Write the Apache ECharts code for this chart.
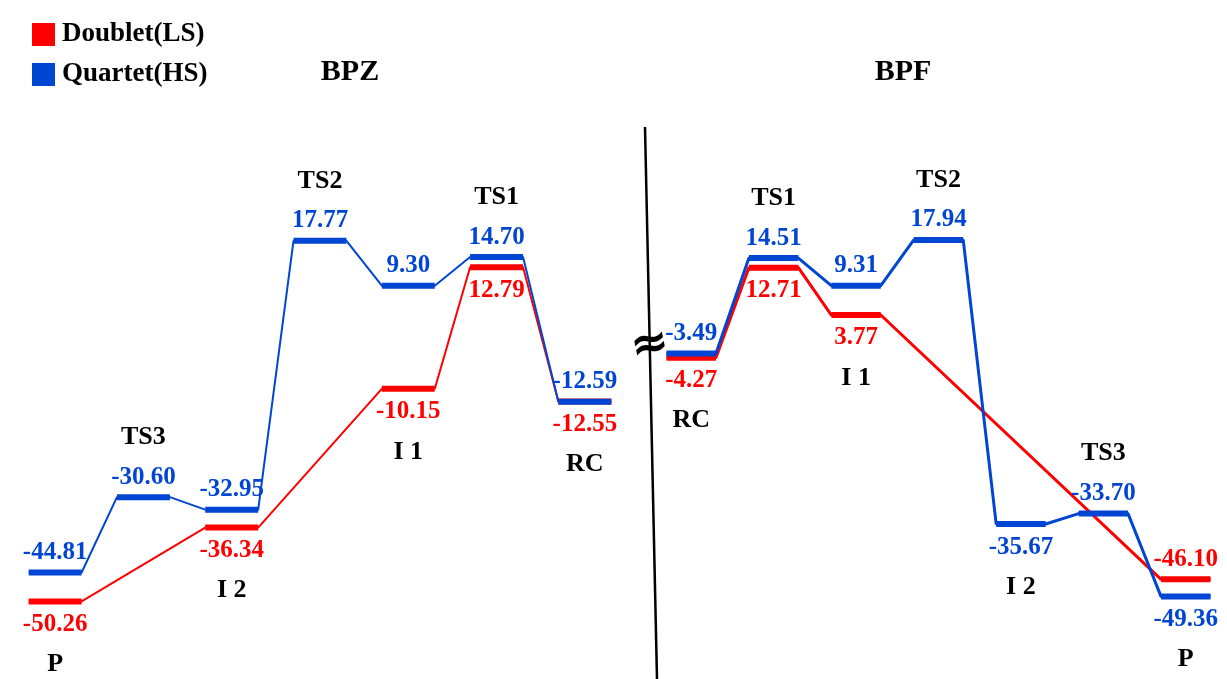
<!DOCTYPE html>
<html><head><meta charset="utf-8">
<script src="https://cdn.jsdelivr.net/npm/echarts@6/dist/echarts.min.js"></script>
<style>html,body{margin:0;padding:0;background:#fff}#c{width:1227px;height:679px}</style>
</head><body><div id="c"></div>
<script>
// ---- data ----
const seriesNames = ['Doublet(LS)', 'Quartet(HS)'];
const panelTitles = ['BPZ', 'BPF'];
const bpzStates  = ['P', 'TS3', 'I 2', 'TS2', 'I 1', 'TS1', 'RC'];
const bpzDoublet = [-50.26, null, -36.34, null, -10.15, 12.79, -12.55];
const bpzQuartet = [-44.81, -30.60, -32.95, 17.77, 9.30, 14.70, -12.59];
const bpfStates  = ['RC', 'TS1', 'I 1', 'TS2', 'I 2', 'TS3', 'P'];
const bpfDoublet = [-4.27, 12.71, 3.77, null, null, null, -46.10];
const bpfQuartet = [-3.49, 14.51, 9.31, 17.94, -35.67, -33.70, -49.36];

// ---- style ----
const RED = '#ff0000', BLUE = '#0046d2';
const COLORS = [RED, BLUE];
const FONT = '"Liberation Serif", "Times New Roman", serif';
const W = 0.3; // half width of a level, in state units

const panels = [
  { states: bpzStates, vals: [bpzDoublet, bpzQuartet], connW: 2 },
  { states: bpfStates, vals: [bpfDoublet, bpfQuartet], connW: 3 }
];

function pathData(vals) {
  const d = [];
  vals.forEach((v, i) => { if (v != null) d.push([i - W, v], [i + W, v]); });
  return d;
}
function side(states, d, q, i, s) {
  const isTS = states[i].indexOf('TS') === 0;
  if (d[i] == null || q[i] == null) return isTS ? -1 : 1;
  const redHigher = d[i] > q[i] + 1;
  if (s === 1) return redHigher ? 1 : -1;
  return redHigher ? -1 : 1;
}

const series = [];
panels.forEach((pn, p) => {
  const [d, q] = pn.vals;
  // connectors
  [0, 1].forEach(s => {
    series.push({
      type: 'line', name: seriesNames[s], xAxisIndex: p, yAxisIndex: p,
      data: pathData(pn.vals[s]), symbol: 'none', silent: true, animation: false,
      lineStyle: { color: COLORS[s], width: pn.connW }, itemStyle: { color: COLORS[s] }, z: 2 + s
    });
  });
  // levels + value labels
  [0, 1].forEach(s => {
    const data = [];
    pn.vals[s].forEach((v, i) => { if (v != null) data.push([i, v, side(pn.states, d, q, i, s)]); });
    series.push({
      type: 'custom', name: seriesNames[s], xAxisIndex: p, yAxisIndex: p, animation: false,
      itemStyle: { color: COLORS[s] }, z: 5 + s,
      encode: { x: 0, y: 1 }, data,
      renderItem: (params, api) => {
        const i = api.value(0), v = api.value(1), sd = api.value(2);
        const p0 = api.coord([i - W, v]), p1 = api.coord([i + W, v]);
        return { type: 'group', children: [
          { type: 'line', shape: { x1: p0[0], y1: p0[1], x2: p1[0], y2: p1[1] },
            style: { stroke: COLORS[s], lineWidth: 6 } },
          { type: 'text', style: { text: v.toFixed(2), x: (p0[0] + p1[0]) / 2, y: p0[1] + (sd < 0 ? -20 : 23),
            align: 'center', verticalAlign: 'middle', fill: COLORS[s],
            fontSize: 25, fontWeight: 'bold', fontFamily: FONT } }
        ]};
      }
    });
  });
  // state labels
  const sdata = pn.states.map((name, i) => {
    const lv = [d[i], q[i]].filter(v => v != null);
    const isTS = name.indexOf('TS') === 0;
    return [i, isTS ? Math.max(...lv) : Math.min(...lv), isTS ? -1 : 1];
  });
  series.push({
    type: 'custom', name: 'states' + p, xAxisIndex: p, yAxisIndex: p, animation: false, z: 8,
    encode: { x: 0, y: 1 }, data: sdata,
    renderItem: (params, api) => {
      const c = api.coord([api.value(0), api.value(1)]);
      const sd = api.value(2);
      return { type: 'text', style: { text: pn.states[params.dataIndex], x: c[0], y: c[1] + (sd < 0 ? -60 : 63),
        align: 'center', verticalAlign: 'middle', fill: '#000', fontSize: 26, fontWeight: 'bold', fontFamily: FONT } };
    }
  });
});

const chart = echarts.init(document.getElementById('c'), null, { renderer: 'canvas' });
chart.setOption({
  animation: false,
  backgroundColor: '#fff',
  title: [
    { text: panelTitles[0], left: 345, top: 52, textAlign: 'center',
      textStyle: { fontFamily: FONT, fontWeight: 'bold', fontSize: 30, color: '#000' } },
    { text: panelTitles[1], left: 898, top: 52, textAlign: 'center',
      textStyle: { fontFamily: FONT, fontWeight: 'bold', fontSize: 30, color: '#000' } }
  ],
  legend: {
    orient: 'vertical', left: 27, top: 15, itemWidth: 23, itemHeight: 23, itemGap: 11,
    data: [{ name: seriesNames[0], icon: 'rect' }, { name: seriesNames[1], icon: 'rect' }],
    selectedMode: false,
    textStyle: { fontFamily: FONT, fontWeight: 'bold', fontSize: 27, color: '#000', lineHeight: 23, padding: [0, 0, 6, 2] }
  },
  grid: [
    { left: 11, width: 618, top: 123, height: 530 },
    { left: 650, width: 588, top: 123, height: 530 }
  ],
  xAxis: [
    { type: 'value', gridIndex: 0, min: -0.5, max: 6.5, show: false },
    { type: 'value', gridIndex: 1, min: -0.5, max: 6.5, show: false }
  ],
  yAxis: [
    { type: 'value', gridIndex: 0, min: -60, max: 40, show: false },
    { type: 'value', gridIndex: 1, min: -60, max: 40, show: false }
  ],
  graphic: [
    { type: 'line', shape: { x1: 645, y1: 127, x2: 657, y2: 679 }, style: { stroke: '#000', lineWidth: 2.5 }, z: 10 },
    { type: 'text', x: 650, y: 346, rotation: 0.2, style: { text: '\u2248', align: 'center', verticalAlign: 'middle',
      fontSize: 46, fontWeight: 'bold', fontFamily: '"DejaVu Sans", sans-serif', fill: '#000' }, z: 11 }
  ],
  series
});
</script>
</body></html>
